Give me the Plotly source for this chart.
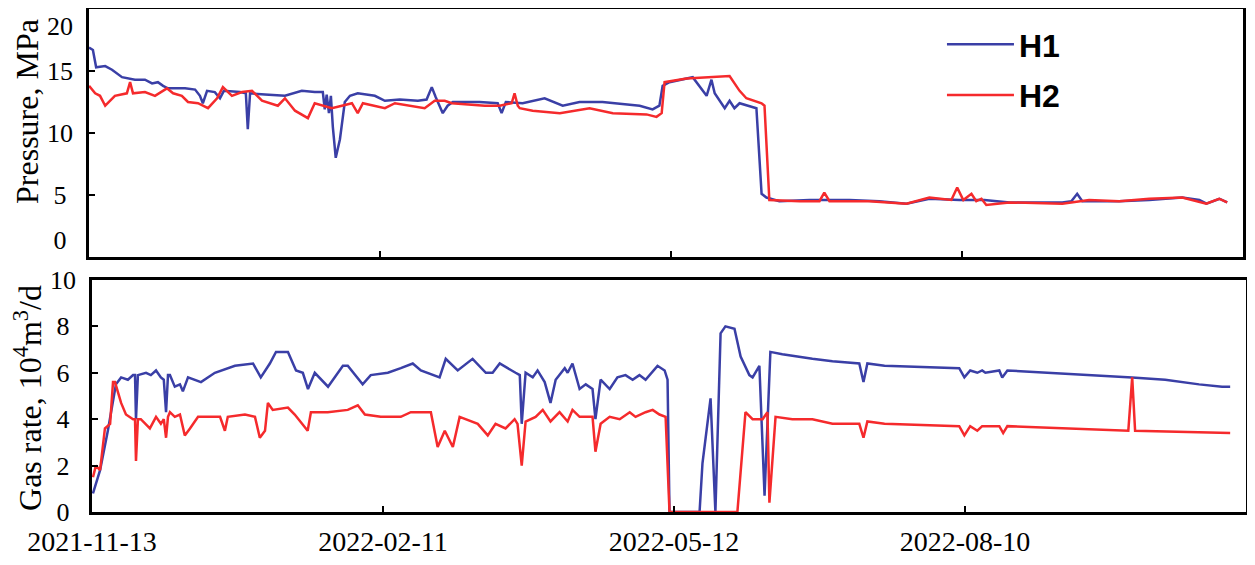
import pandas as pd
import plotly.graph_objects as go

# data; x values are days after the start date
START = "2021-11-13"

# pressure, MPa
p_h1_days = [0, 1.2, 2.2, 5.0, 7.1, 10.2, 14.2, 17.3, 19.5, 21.3, 22.9, 24.4, 29.7, 32.8,
             34.3, 35.2, 36.5, 38.9, 40.5, 41.7, 46.7, 48.5, 49.1, 49.8, 54.4, 60.6, 65.8,
             69.8, 72.3, 72.9, 73.5, 74.2, 74.8, 75.4, 76.3, 77.6, 79.1, 80.7, 83.1, 88.4,
             91.5, 96.1, 101.7, 104.4, 106.0, 107.2, 109.4, 110.9, 112.5, 120.8, 126.4,
             127.6, 128.9, 134.1, 140.9, 146.5, 151.7, 158.8, 170.3, 174.3, 176.4, 177.4,
             179.5, 186.7, 191.0, 192.5, 193.5, 196.6, 198.1, 199.6, 201.2, 206.4, 208.0,
             209.5, 213.5, 222.8, 235.2, 244.4, 252.8, 259.9, 269.2, 276.9, 284.7, 301.0,
             303.8, 305.6, 307.2, 318.6, 327.9, 338.1, 343.4, 345.6, 349.6, 352.0]
p_h1 = [16.9, 16.7, 15.3, 15.4, 15.1, 14.5, 14.3, 14.3, 14.0, 14.1, 13.8, 13.6, 13.6, 13.5,
        13.0, 12.4, 13.4, 13.3, 12.8, 13.4, 13.3, 13.2, 10.3, 13.2, 13.1, 13.0, 13.4,
        13.3, 13.3, 11.9, 13.1, 11.6, 13.0, 10.5, 8.0, 9.5, 12.5, 13.0, 13.2, 13.0,
        12.6, 12.7, 12.6, 12.7, 13.7, 12.9, 11.6, 12.2, 12.5, 12.5, 12.4,
        11.6, 12.5, 12.4, 12.8, 12.2, 12.5, 12.5, 12.2, 11.9, 12.2, 13.8,
        14.1, 14.5, 13.0, 14.3, 13.2, 12.0, 12.6, 12.0, 12.4, 12.0, 5.1,
        4.8, 4.5, 4.6, 4.6, 4.5, 4.3, 4.7, 4.6, 4.6, 4.4, 4.4,
        4.5, 5.1, 4.5, 4.5, 4.6, 4.8, 4.6, 4.3, 4.7, 4.4]

p_h2_days = [0, 1.9, 3.4, 5.0, 8.0, 11.7, 12.7, 13.6, 17.3, 20.4, 24.1, 26.0, 28.7, 30.6,
             33.7, 36.8, 39.6, 41.4, 44.2, 47.3, 50.4, 53.5, 58.4, 60.6, 63.7, 67.7, 69.8,
             75.1, 78.2, 81.3, 83.1, 84.7, 91.5, 94.6, 103.8, 106.9, 110.0, 112.2, 122.4,
             127.0, 130.7, 131.6, 132.6, 133.2, 137.2, 145.6, 154.8, 162.0, 172.4, 175.5,
             177.1, 178.0, 184.8, 198.1, 201.2, 203.3, 208.0, 208.9, 210.4, 219.8, 225.9,
             227.4, 229.0, 241.3, 252.8, 259.9, 266.7, 268.5, 270.4, 272.9, 274.4, 276.0,
             277.5, 284.6, 301.0, 309.3, 318.6, 327.9, 338.1, 345.5, 349.5, 352.0]
p_h2 = [13.8, 13.2, 13.0, 12.2, 13.0, 13.2, 14.1, 13.2, 13.3, 13.0, 13.6, 13.2, 13.0, 12.5,
        12.4, 12.0, 12.8, 13.7, 13.0, 13.3, 13.4, 12.6, 12.2, 12.8, 11.8, 11.2, 12.4,
        12.0, 12.2, 12.4, 11.6, 12.4, 12.0, 12.4, 12.0, 12.6, 12.6, 12.4, 12.2,
        12.2, 12.4, 13.2, 12.2, 12.0, 11.8, 11.6, 12.0, 11.6, 11.5, 11.3,
        11.6, 14.1, 14.4, 14.6, 13.4, 12.8, 12.4, 12.2, 4.6, 4.5, 4.5,
        5.2, 4.5, 4.5, 4.3, 4.8, 4.6, 5.6, 4.6, 5.1, 4.5, 4.7,
        4.2, 4.4, 4.3, 4.6, 4.5, 4.7, 4.8, 4.3, 4.7, 4.4]

# gas rate, 10^4 m3/d
q_h1_days = [0.3, 2.5, 4.9, 7.4, 9.0, 11.1, 12.7, 13.3, 13.6, 14.2, 16.7, 18.2, 19.8, 21.3,
             22.2, 22.9, 23.5, 24.1, 25.6, 27.2, 28.1, 29.7, 33.7, 35.8, 38.0, 44.2, 49.8,
             52.2, 55.0, 56.9, 60.6, 63.1, 65.2, 66.8, 68.9, 73.0, 77.6, 79.1, 83.7, 86.2,
             91.5, 95.5, 99.2, 101.7, 107.5, 109.4, 113.1, 117.7, 121.8, 123.9, 126.1,
             131.0, 132.3, 132.9, 134.1, 136.3, 137.8, 140.0, 141.8, 143.4, 146.2, 147.1,
             148.6, 150.8, 152.7, 154.8, 155.7, 157.3, 160.1, 162.5, 165.0, 167.2, 169.3,
             171.2, 174.9, 177.1, 178.0, 178.6, 187.9, 188.8, 191.3, 192.8, 194.4, 195.9,
             198.7, 200.6, 203.3, 204.3, 206.4, 208.0, 209.8, 213.5, 222.8, 229.0, 237.3,
             238.6, 239.8, 245.1, 268.2, 269.8, 271.6, 273.8, 275.3, 276.3, 280.6, 281.5,
             283.1, 321.7, 331.9, 342.4, 349.5, 352.0]
q_h1 = [0.8, 1.8, 3.5, 5.5, 5.8, 5.7, 5.9, 5.9, 4.0, 5.9, 6.0, 5.9, 6.1, 5.8,
        5.7, 4.3, 5.9, 5.9, 5.4, 5.5, 5.2, 5.8, 5.6, 5.8, 6.0, 6.3, 6.4,
        5.8, 6.4, 6.9, 6.9, 6.1, 6.0, 5.3, 6.0, 5.4, 6.3, 6.3, 5.5, 5.9,
        6.0, 6.2, 6.4, 6.1, 5.8, 6.6, 6.1, 6.6, 6.0, 6.0, 6.4,
        6.0, 5.9, 3.8, 6.0, 5.8, 6.1, 5.6, 4.7, 5.7, 6.2, 6.0,
        6.4, 5.3, 5.5, 5.3, 4.0, 5.7, 5.3, 5.8, 5.9, 5.7, 5.9,
        5.7, 6.3, 6.1, 5.7, 0.0, 0.0, 2.1, 4.9, 0.0, 7.7, 8.0,
        7.9, 6.7, 5.9, 5.8, 6.3, 0.7, 6.9, 6.8, 6.6, 6.5, 6.4,
        5.6, 6.4, 6.3, 6.2, 5.8, 6.1, 6.0, 6.1, 6.0, 6.1, 5.8,
        6.1, 5.8, 5.7, 5.5, 5.4, 5.4]

q_h2_days = [0.3, 1.2, 2.5, 4.0, 5.6, 6.5, 7.1, 9.0, 10.5, 12.7, 13.3, 13.6, 14.2, 15.1,
             17.9, 19.8, 21.3, 22.2, 22.9, 23.5, 24.1, 25.6, 27.2, 28.7, 30.3, 32.8, 36.8,
             39.6, 41.1, 42.0, 47.3, 50.4, 51.9, 53.5, 54.4, 55.9, 60.6, 62.7, 66.7, 67.7,
             72.9, 79.1, 82.2, 84.4, 89.3, 95.5, 98.6, 104.8, 106.9, 109.1, 111.6, 113.7,
             119.3, 121.8, 122.4, 124.8, 127.9, 130.7, 131.6, 132.9, 134.1, 137.2, 139.4,
             141.8, 144.6, 147.1, 148.6, 150.8, 154.8, 155.7, 157.3, 160.1, 163.2, 166.3,
             168.1, 171.2, 173.4, 175.5, 177.4, 178.6, 199.6, 202.1, 204.3, 207.4, 208.9,
             209.5, 211.4, 216.6, 222.8, 229.0, 237.3, 238.6, 239.8, 245.1, 268.2, 269.8,
             271.6, 273.8, 275.3, 280.6, 281.8, 283.1, 301.0, 320.5, 321.7, 322.6, 352.0]
q_h2 = [1.5, 2.0, 1.8, 3.6, 3.8, 5.6, 5.6, 4.7, 4.2, 4.0, 4.0, 2.2, 4.0, 4.0,
        3.6, 4.1, 3.8, 4.0, 3.2, 4.1, 4.3, 4.1, 4.2, 3.3, 3.6, 4.1, 4.1,
        4.1, 3.5, 4.1, 4.2, 4.1, 3.2, 3.5, 4.7, 4.4, 4.5, 4.2, 3.5, 4.3,
        4.3, 4.4, 4.6, 4.2, 4.1, 4.1, 4.3, 4.3, 2.8, 3.5, 2.8, 4.1,
        3.8, 3.4, 3.3, 3.8, 3.6, 4.0, 3.8, 2.0, 3.9, 4.1, 4.4,
        3.9, 4.3, 3.9, 4.4, 4.1, 4.1, 2.6, 3.8, 4.1, 4.0, 4.3,
        4.1, 4.3, 4.4, 4.2, 4.1, 0.0, 0.0, 4.3, 4.0, 4.0, 4.3,
        0.4, 4.1, 4.0, 4.0, 3.8, 3.8, 3.2, 3.9, 3.8, 3.7, 3.3,
        3.7, 3.5, 3.7, 3.7, 3.4, 3.7, 3.6, 3.5, 5.8, 3.5, 3.4]

tick_dates = ["2021-11-13", "2022-02-11", "2022-05-12", "2022-08-10"]
p_ticks = [0, 5, 10, 15, 20]
q_ticks = [0, 2, 4, 6, 8, 10]

BLUE = "#3a3fa6"
RED = "#f52a2c"
SERIF = "Liberation Serif, Times New Roman, serif"

# the page adds an 8 px body margin, so the figure is drawn that much smaller
W, H = 1239, 549


def to_dates(days):
    return pd.Timestamp(START) + pd.to_timedelta(days, unit="D")


def centred(vals):
    # single digits sit centred under two-digit labels in the original
    return [str(v) + ("\u2005" if v < 10 else "") for v in vals]


# end labels of the pressure axis sit pulled inwards in the original
p_labels = centred(p_ticks)
p_labels[0] = p_labels[0] + "<br> "
p_labels[-1] = "<br>" + p_labels[-1]

x_end = pd.Timestamp(START) + pd.Timedelta(days=356.9)

fig = go.Figure()
fig.add_trace(go.Scatter(x=to_dates(p_h1_days), y=p_h1, name="H1", legendgroup="h1",
                         mode="lines", line=dict(color=BLUE, width=2.5),
                         xaxis="x", yaxis="y"))
fig.add_trace(go.Scatter(x=to_dates(p_h2_days), y=p_h2, name="H2", legendgroup="h2",
                         mode="lines", line=dict(color=RED, width=2.5),
                         xaxis="x", yaxis="y"))
fig.add_trace(go.Scatter(x=to_dates(q_h1_days), y=q_h1, name="H1", legendgroup="h1",
                         showlegend=False, mode="lines", line=dict(color=BLUE, width=2.5),
                         xaxis="x2", yaxis="y2"))
fig.add_trace(go.Scatter(x=to_dates(q_h2_days), y=q_h2, name="H2", legendgroup="h2",
                         showlegend=False, mode="lines", line=dict(color=RED, width=2.5),
                         xaxis="x2", yaxis="y2"))

frame = dict(showline=True, linecolor="black", linewidth=2.5, mirror=True,
             showgrid=False, zeroline=False, ticks="inside", ticklen=6,
             tickwidth=1.5, tickcolor="black", automargin=False,
             ticklabeloverflow="allow")

fig.update_layout(
    width=W, height=H, autosize=False,
    margin=dict(l=0, r=0, t=0, b=0),
    paper_bgcolor="white", plot_bgcolor="white",
    xaxis=dict(domain=[0.0654, 0.9968], anchor="y", type="date",
               range=[pd.Timestamp(START), x_end], tickvals=tick_dates,
               showticklabels=False, **frame),
    yaxis=dict(domain=[0.5464, 0.9982], anchor="x", range=[0, 20],
               tickvals=p_ticks, ticktext=p_labels,
               tickfont=dict(family=SERIF, size=26, color="black"),
               ticklabelstandoff=8, **frame),
    xaxis2=dict(domain=[0.0678, 0.9992], anchor="y2", type="date",
                range=[pd.Timestamp(START), x_end], tickvals=tick_dates,
                ticktext=tick_dates,
                tickfont=dict(family=SERIF, size=28, color="black"),
                ticklabelstandoff=3, **frame),
    yaxis2=dict(domain=[0.0820, 0.5046], anchor="x2", range=[0, 10],
                tickvals=q_ticks, ticktext=centred(q_ticks),
                tickfont=dict(family=SERIF, size=26, color="black"),
                ticklabelstandoff=8, **frame),
    legend=dict(x=0.7538, y=0.9836, xanchor="left", yanchor="top",
                bgcolor="rgba(0,0,0,0)", itemwidth=67, tracegroupgap=6,
                font=dict(family="Liberation Sans, Arial, sans-serif", size=32,
                          color="black", weight="bold")),
    showlegend=True,
)

# axis titles, placed as in the source figure
fig.add_annotation(text="Pressure, MPa", xref="paper", yref="paper", x=0.0153, y=0.8124,
                   textangle=-90, showarrow=False, xanchor="center", yanchor="middle",
                   font=dict(family=SERIF, size=32, color="black"))
fig.add_annotation(text="Gas rate, 10<sup>4</sup>m<sup>3</sup>/d", xref="paper", yref="paper",
                   x=0.0161, y=0.2896, textangle=-90, showarrow=False,
                   xanchor="center", yanchor="middle",
                   font=dict(family=SERIF, size=32, color="black"))

fig.write_html("out.html")
